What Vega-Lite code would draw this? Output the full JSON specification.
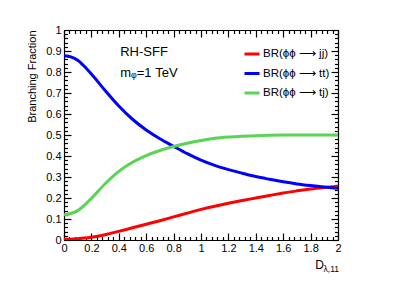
{
  "$schema": "https://vega.github.io/schema/vega-lite/v6.json",
  "width": 274,
  "height": 210,
  "autosize": "none",
  "padding": {"left": 64, "top": 30, "right": 61, "bottom": 46},
  "config": {
    "font": "Liberation Sans",
    "view": {"stroke": "#000000", "strokeWidth": 1, "fill": null},
    "axis": {"domain": true, "ticks": true, "domainColor": "#000000", "domainWidth": 1.2, "tickColor": "#000000", "tickWidth": 1.2, "labelColor": "#000000", "titleColor": "#000000", "grid": false, "labelFont": "Liberation Sans", "titleFont": "Liberation Sans", "titleFontWeight": "normal"},
    "legend": {"labelFont": "Liberation Sans"}
  },
  "datasets": {
    "curves": [
      {"x": 0, "br": 0.004, "ch": "BR(ϕϕ ⟶ jj)"},
      {"x": 0.05, "br": 0.004, "ch": "BR(ϕϕ ⟶ jj)"},
      {"x": 0.1, "br": 0.006, "ch": "BR(ϕϕ ⟶ jj)"},
      {"x": 0.15, "br": 0.009, "ch": "BR(ϕϕ ⟶ jj)"},
      {"x": 0.2, "br": 0.013, "ch": "BR(ϕϕ ⟶ jj)"},
      {"x": 0.3, "br": 0.025, "ch": "BR(ϕϕ ⟶ jj)"},
      {"x": 0.4, "br": 0.041, "ch": "BR(ϕϕ ⟶ jj)"},
      {"x": 0.5, "br": 0.058, "ch": "BR(ϕϕ ⟶ jj)"},
      {"x": 0.6, "br": 0.075, "ch": "BR(ϕϕ ⟶ jj)"},
      {"x": 0.7, "br": 0.092, "ch": "BR(ϕϕ ⟶ jj)"},
      {"x": 0.8, "br": 0.110, "ch": "BR(ϕϕ ⟶ jj)"},
      {"x": 0.9, "br": 0.128, "ch": "BR(ϕϕ ⟶ jj)"},
      {"x": 1.0, "br": 0.146, "ch": "BR(ϕϕ ⟶ jj)"},
      {"x": 1.1, "br": 0.161, "ch": "BR(ϕϕ ⟶ jj)"},
      {"x": 1.2, "br": 0.175, "ch": "BR(ϕϕ ⟶ jj)"},
      {"x": 1.3, "br": 0.188, "ch": "BR(ϕϕ ⟶ jj)"},
      {"x": 1.4, "br": 0.200, "ch": "BR(ϕϕ ⟶ jj)"},
      {"x": 1.5, "br": 0.212, "ch": "BR(ϕϕ ⟶ jj)"},
      {"x": 1.6, "br": 0.224, "ch": "BR(ϕϕ ⟶ jj)"},
      {"x": 1.7, "br": 0.234, "ch": "BR(ϕϕ ⟶ jj)"},
      {"x": 1.8, "br": 0.243, "ch": "BR(ϕϕ ⟶ jj)"},
      {"x": 1.9, "br": 0.250, "ch": "BR(ϕϕ ⟶ jj)"},
      {"x": 2.0, "br": 0.256, "ch": "BR(ϕϕ ⟶ jj)"},
      {"x": 0, "br": 0.878, "ch": "BR(ϕϕ ⟶ tt)"},
      {"x": 0.05, "br": 0.872, "ch": "BR(ϕϕ ⟶ tt)"},
      {"x": 0.1, "br": 0.856, "ch": "BR(ϕϕ ⟶ tt)"},
      {"x": 0.15, "br": 0.826, "ch": "BR(ϕϕ ⟶ tt)"},
      {"x": 0.2, "br": 0.790, "ch": "BR(ϕϕ ⟶ tt)"},
      {"x": 0.3, "br": 0.712, "ch": "BR(ϕϕ ⟶ tt)"},
      {"x": 0.4, "br": 0.638, "ch": "BR(ϕϕ ⟶ tt)"},
      {"x": 0.5, "br": 0.575, "ch": "BR(ϕϕ ⟶ tt)"},
      {"x": 0.6, "br": 0.524, "ch": "BR(ϕϕ ⟶ tt)"},
      {"x": 0.7, "br": 0.482, "ch": "BR(ϕϕ ⟶ tt)"},
      {"x": 0.8, "br": 0.446, "ch": "BR(ϕϕ ⟶ tt)"},
      {"x": 0.9, "br": 0.411, "ch": "BR(ϕϕ ⟶ tt)"},
      {"x": 1.0, "br": 0.380, "ch": "BR(ϕϕ ⟶ tt)"},
      {"x": 1.1, "br": 0.355, "ch": "BR(ϕϕ ⟶ tt)"},
      {"x": 1.2, "br": 0.335, "ch": "BR(ϕϕ ⟶ tt)"},
      {"x": 1.3, "br": 0.318, "ch": "BR(ϕϕ ⟶ tt)"},
      {"x": 1.4, "br": 0.302, "ch": "BR(ϕϕ ⟶ tt)"},
      {"x": 1.5, "br": 0.289, "ch": "BR(ϕϕ ⟶ tt)"},
      {"x": 1.6, "br": 0.277, "ch": "BR(ϕϕ ⟶ tt)"},
      {"x": 1.7, "br": 0.267, "ch": "BR(ϕϕ ⟶ tt)"},
      {"x": 1.8, "br": 0.259, "ch": "BR(ϕϕ ⟶ tt)"},
      {"x": 1.9, "br": 0.252, "ch": "BR(ϕϕ ⟶ tt)"},
      {"x": 2.0, "br": 0.246, "ch": "BR(ϕϕ ⟶ tt)"},
      {"x": 0, "br": 0.120, "ch": "BR(ϕϕ ⟶ tj)"},
      {"x": 0.05, "br": 0.126, "ch": "BR(ϕϕ ⟶ tj)"},
      {"x": 0.1, "br": 0.140, "ch": "BR(ϕϕ ⟶ tj)"},
      {"x": 0.15, "br": 0.166, "ch": "BR(ϕϕ ⟶ tj)"},
      {"x": 0.2, "br": 0.198, "ch": "BR(ϕϕ ⟶ tj)"},
      {"x": 0.3, "br": 0.268, "ch": "BR(ϕϕ ⟶ tj)"},
      {"x": 0.4, "br": 0.327, "ch": "BR(ϕϕ ⟶ tj)"},
      {"x": 0.5, "br": 0.370, "ch": "BR(ϕϕ ⟶ tj)"},
      {"x": 0.6, "br": 0.402, "ch": "BR(ϕϕ ⟶ tj)"},
      {"x": 0.7, "br": 0.426, "ch": "BR(ϕϕ ⟶ tj)"},
      {"x": 0.8, "br": 0.445, "ch": "BR(ϕϕ ⟶ tj)"},
      {"x": 0.9, "br": 0.461, "ch": "BR(ϕϕ ⟶ tj)"},
      {"x": 1.0, "br": 0.474, "ch": "BR(ϕϕ ⟶ tj)"},
      {"x": 1.1, "br": 0.484, "ch": "BR(ϕϕ ⟶ tj)"},
      {"x": 1.2, "br": 0.490, "ch": "BR(ϕϕ ⟶ tj)"},
      {"x": 1.3, "br": 0.494, "ch": "BR(ϕϕ ⟶ tj)"},
      {"x": 1.4, "br": 0.497, "ch": "BR(ϕϕ ⟶ tj)"},
      {"x": 1.5, "br": 0.499, "ch": "BR(ϕϕ ⟶ tj)"},
      {"x": 1.6, "br": 0.500, "ch": "BR(ϕϕ ⟶ tj)"},
      {"x": 1.7, "br": 0.500, "ch": "BR(ϕϕ ⟶ tj)"},
      {"x": 1.8, "br": 0.500, "ch": "BR(ϕϕ ⟶ tj)"},
      {"x": 1.9, "br": 0.500, "ch": "BR(ϕϕ ⟶ tj)"},
      {"x": 2.0, "br": 0.500, "ch": "BR(ϕϕ ⟶ tj)"}
    ],
    "notes": [
      {"x": 0.41, "y": 0.895, "t": "RH-SFF"},
      {"x": 0.41, "y": 0.795, "t": "mᵩ=1 TeV"}
    ]
  },
  "layer": [
    {
      "data": {"name": "curves"},
      "mark": {"type": "line", "strokeWidth": 3, "interpolate": "monotone", "clip": true},
      "encoding": {
        "x": {"field": "x", "type": "quantitative",
          "scale": {"domain": [0, 2], "nice": false, "zero": false},
          "axis": {"orient": "bottom", "title": null,
            "values": [0,0.04,0.08,0.12,0.16,0.2,0.24,0.28,0.32,0.36,0.4,0.44,0.48,0.52,0.56,0.6,0.64,0.68,0.72,0.76,0.8,0.84,0.88,0.92,0.96,1,1.04,1.08,1.12,1.16,1.2,1.24,1.28,1.32,1.36,1.4,1.44,1.48,1.52,1.56,1.6,1.64,1.68,1.72,1.76,1.8,1.84,1.88,1.92,1.96,2],
            "tickSize": -7,
            "tickDash": {"condition": {"test": "abs(datum.value*5 - round(datum.value*5)) < 0.01", "value": [7, 0]}, "value": [3.5, 20]},
            "labelExpr": "abs(datum.value*5 - round(datum.value*5)) < 0.01 ? format(datum.value, '~g') : ''",
            "labelFontSize": 11, "labelPadding": 9, "labelFlush": false, "labelOverlap": false}},
        "y": {"field": "br", "type": "quantitative",
          "scale": {"domain": [0, 1], "nice": false, "zero": false},
          "axis": {"orient": "left", "title": "Branching Fraction", "titleAnchor": "end", "titleFontSize": 11, "titlePadding": 8,
            "values": [0,0.02,0.04,0.06,0.08,0.1,0.12,0.14,0.16,0.18,0.2,0.22,0.24,0.26,0.28,0.3,0.32,0.34,0.36,0.38,0.4,0.42,0.44,0.46,0.48,0.5,0.52,0.54,0.56,0.58,0.6,0.62,0.64,0.66,0.68,0.7,0.72,0.74,0.76,0.78,0.8,0.82,0.84,0.86,0.88,0.9,0.92,0.94,0.96,0.98,1],
            "tickSize": -7,
            "tickDash": {"condition": {"test": "abs(datum.value*10 - round(datum.value*10)) < 0.01", "value": [7, 0]}, "value": [3.5, 20]},
            "labelExpr": "abs(datum.value*10 - round(datum.value*10)) < 0.01 ? format(datum.value, '~g') : ''",
            "labelFontSize": 11, "labelPadding": 10, "labelFlush": false, "labelOverlap": false}},
        "color": {"field": "ch", "type": "nominal",
          "scale": {"domain": ["BR(ϕϕ ⟶ jj)", "BR(ϕϕ ⟶ tt)", "BR(ϕϕ ⟶ tj)"], "range": ["#ff0000", "#0000ff", "#59d454"]},
          "legend": {"title": null, "orient": "none", "legendX": 179, "legendY": 15, "symbolType": "stroke", "symbolSize": 225, "symbolStrokeWidth": 3, "labelFontSize": 11.5, "labelOffset": 2, "rowPadding": 4.5, "padding": 0, "labelColor": "black"}}
      }
    },
    {
      "data": {"name": "curves"},
      "mark": {"type": "line", "strokeOpacity": 0},
      "encoding": {
        "x": {"field": "x", "type": "quantitative",
          "axis": {"orient": "top", "title": null, "labels": false,
            "values": [0,0.04,0.08,0.12,0.16,0.2,0.24,0.28,0.32,0.36,0.4,0.44,0.48,0.52,0.56,0.6,0.64,0.68,0.72,0.76,0.8,0.84,0.88,0.92,0.96,1,1.04,1.08,1.12,1.16,1.2,1.24,1.28,1.32,1.36,1.4,1.44,1.48,1.52,1.56,1.6,1.64,1.68,1.72,1.76,1.8,1.84,1.88,1.92,1.96,2],
            "tickSize": -7,
            "tickDash": {"condition": {"test": "abs(datum.value*5 - round(datum.value*5)) < 0.01", "value": [7, 0]}, "value": [3.5, 20]}}},
        "y": {"field": "br", "type": "quantitative",
          "axis": {"orient": "right", "title": null, "labels": false,
            "values": [0,0.02,0.04,0.06,0.08,0.1,0.12,0.14,0.16,0.18,0.2,0.22,0.24,0.26,0.28,0.3,0.32,0.34,0.36,0.38,0.4,0.42,0.44,0.46,0.48,0.5,0.52,0.54,0.56,0.58,0.6,0.62,0.64,0.66,0.68,0.7,0.72,0.74,0.76,0.78,0.8,0.82,0.84,0.86,0.88,0.9,0.92,0.94,0.96,0.98,1],
            "tickSize": -7,
            "tickDash": {"condition": {"test": "abs(datum.value*10 - round(datum.value*10)) < 0.01", "value": [7, 0]}, "value": [3.5, 20]}}}
      }
    },
    {
      "data": {"name": "notes"},
      "mark": {"type": "text", "align": "left", "baseline": "middle", "fontSize": 13, "color": "black"},
      "encoding": {
        "x": {"field": "x", "type": "quantitative", "axis": null},
        "y": {"field": "y", "type": "quantitative", "axis": null},
        "text": {"field": "t"}
      }
    },
    {
      "data": {"values": [{}]},
      "mark": {"type": "text", "text": "D", "align": "right", "baseline": "alphabetic", "fontSize": 12, "dx": -14, "dy": 29, "color": "black"},
      "encoding": {"x": {"datum": 2, "type": "quantitative", "axis": null}, "y": {"datum": 0, "type": "quantitative", "axis": null}}
    },
    {
      "data": {"values": [{}]},
      "mark": {"type": "text", "text": "λ,11", "align": "right", "baseline": "alphabetic", "fontSize": 8.5, "dx": 1, "dy": 32, "color": "black"},
      "encoding": {"x": {"datum": 2, "type": "quantitative", "axis": null}, "y": {"datum": 0, "type": "quantitative", "axis": null}}
    }
  ],
  "resolve": {"axis": {"x": "independent", "y": "independent"}}
}
